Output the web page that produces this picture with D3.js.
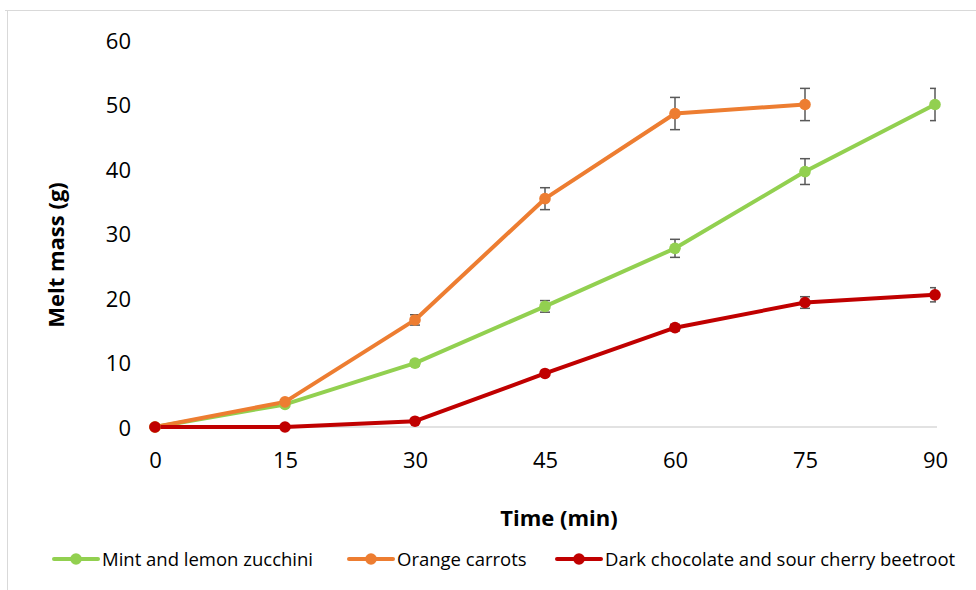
<!DOCTYPE html>
<html>
<head>
<meta charset="utf-8">
<script src="https://cdn.jsdelivr.net/npm/d3@7"></script>
<style>
  html, body { margin: 0; padding: 0; background: #fff; }
  svg { display: block; }
  text { font-family: "Open Sans", Lato, sans-serif; fill: #000; }
</style>
</head>
<body>
<svg id="chart" width="976" height="590"></svg>
<script>
// Melt mass over time for three frozen vegetable desserts
const times = [0, 15, 30, 45, 60, 75, 90];
const yTicks = [0, 10, 20, 30, 40, 50, 60];

const seriesNames = ["Mint and lemon zucchini", "Orange carrots", "Dark chocolate and sour cherry beetroot"];
const seriesColors = ["#92D050", "#ED7D31", "#C00000"];

const zucchiniMass = [0, 3.5, 9.9, 18.7, 27.7, 39.6, 50.0];
const zucchiniErr  = [0, 0.3, 0.4, 0.9, 1.4, 2.0, 2.5];

const carrotMass = [0, 3.9, 16.6, 35.4, 48.6, 50.0];
const carrotErr  = [0, 0.3, 0.8, 1.7, 2.5, 2.5];

const beetrootMass = [0, 0, 0.9, 8.3, 15.4, 19.3, 20.5];
const beetrootErr  = [0, 0, 0.3, 0.3, 0.5, 0.9, 1.1];

const series = [
  { name: seriesNames[0], color: seriesColors[0], values: zucchiniMass, errors: zucchiniErr },
  { name: seriesNames[1], color: seriesColors[1], values: carrotMass, errors: carrotErr },
  { name: seriesNames[2], color: seriesColors[2], values: beetrootMass, errors: beetrootErr }
];

const FONT = "'Open Sans', Lato, sans-serif";
const svg = d3.select("#chart");

// chart frame (top and left edges)
svg.append("line").attr("x1", 5).attr("x2", 976).attr("y1", 10.5).attr("y2", 10.5)
  .attr("stroke", "#d9d9d9").attr("stroke-width", 1);
svg.append("line").attr("x1", 7.5).attr("x2", 7.5).attr("y1", 10).attr("y2", 590)
  .attr("stroke", "#d9d9d9").attr("stroke-width", 1);

const x = d3.scaleLinear().domain([0, 90]).range([155, 935]);
const y = d3.scaleLinear().domain([0, 60]).range([427, 40]);

// baseline
svg.append("line").attr("x1", x(0)).attr("x2", 937).attr("y1", y(0)).attr("y2", y(0))
  .attr("stroke", "#d9d9d9").attr("stroke-width", 1.3);

// y axis labels
const yAxis = d3.axisLeft(y).tickValues(yTicks).tickSize(0).tickPadding(0);
const yg = svg.append("g").attr("transform", "translate(131,0)").call(yAxis);
yg.select(".domain").remove();
yg.selectAll("text").style("font-size", "22px").attr("dy", "0.37em")
  .style("font-family", FONT).attr("fill", "#000");

// x axis labels
const xAxis = d3.axisBottom(x).tickValues(times).tickSize(0).tickPadding(0);
const xg = svg.append("g").attr("transform", "translate(0,468)").call(xAxis);
xg.select(".domain").remove();
xg.selectAll("text").style("font-size", "22px").attr("y", 0).attr("dy", 0)
  .style("font-family", FONT).attr("fill", "#000");

// axis titles
svg.append("text").attr("x", 559).attr("y", 526).attr("text-anchor", "middle")
  .style("font-size", "22px").style("font-weight", "bold").text("Time (min)");
svg.append("text").attr("transform", "translate(64,255) rotate(-90)").attr("text-anchor", "middle")
  .style("font-size", "22px").style("font-weight", "bold").text("Melt mass (g)");

// error bars, clipped at the plot's right edge
svg.append("clipPath").attr("id", "plotClip")
  .append("rect").attr("x", 140).attr("y", 20).attr("width", 796).attr("height", 430);

const errG = svg.append("g").attr("clip-path", "url(#plotClip)");
series.forEach(s => {
  s.values.forEach((v, i) => {
    const e = s.errors[i];
    if (!e) return;
    const cx = x(times[i]);
    const g = errG.append("g").attr("stroke", "#595959").attr("stroke-width", 1.5);
    g.append("line").attr("x1", cx).attr("x2", cx).attr("y1", y(v - e)).attr("y2", y(v + e));
    g.append("line").attr("x1", cx - 5).attr("x2", cx + 5).attr("y1", y(v - e)).attr("y2", y(v - e));
    g.append("line").attr("x1", cx - 5).attr("x2", cx + 5).attr("y1", y(v + e)).attr("y2", y(v + e));
  });
});

// lines and markers
const line = d3.line().x((d, i) => x(times[i])).y(d => y(d));
series.forEach(s => {
  svg.append("path").datum(s.values).attr("d", line)
    .attr("fill", "none").attr("stroke", s.color).attr("stroke-width", 4)
    .attr("stroke-linejoin", "round").attr("stroke-linecap", "round");
});
series.forEach(s => {
  svg.append("g").selectAll("circle").data(s.values).join("circle")
    .attr("cx", (d, i) => x(times[i])).attr("cy", d => y(d)).attr("r", 5.8)
    .attr("fill", s.color);
});

// legend
const legendX = [54, 349, 557];
const legendY = 559;
series.forEach((s, i) => {
  const g = svg.append("g").attr("transform", `translate(${legendX[i]},${legendY})`);
  g.append("line").attr("x1", 0).attr("x2", 44).attr("y1", 0).attr("y2", 0)
    .attr("stroke", s.color).attr("stroke-width", 4).attr("stroke-linecap", "round");
  g.append("circle").attr("cx", 22).attr("cy", 0).attr("r", 5.8).attr("fill", s.color);
  g.append("text").attr("x", 48).attr("y", 7)
    .style("font-size", "18.5px").text(s.name);
});
</script>
</body>
</html>
